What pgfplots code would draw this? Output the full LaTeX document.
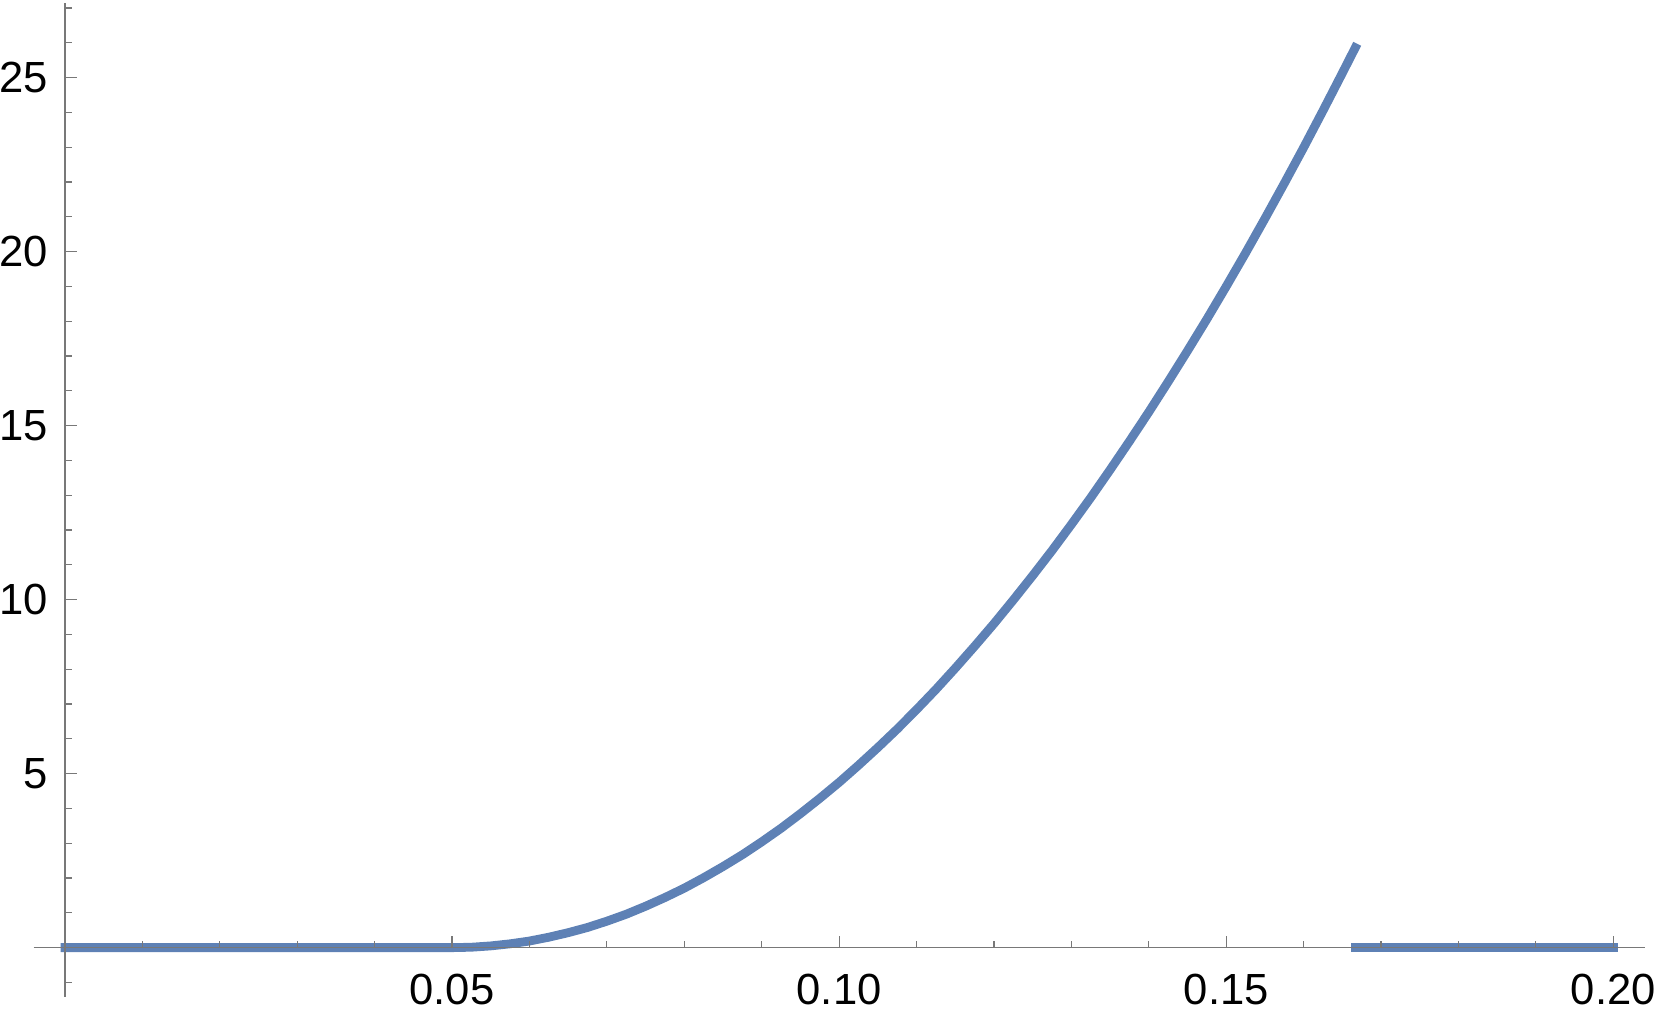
\documentclass[border=0pt]{standalone}
\usepackage{fontspec}
\setmainfont{Liberation Sans}
\usepackage{pgfplots}
\pgfplotsset{compat=1.18}
\definecolor{mblue}{RGB}{94,129,181}
\definecolor{axgray}{RGB}{120,120,120}
\begin{document}
\begin{tikzpicture}
\begin{axis}[
 at={(0pt,0pt)}, anchor=south west,
 scale only axis, width=402.8pt, height=248.4pt,
 axis lines=middle, axis on top,
 axis line style={-, axgray, line width=0.3pt},
 xmin=-0.00404, xmax=0.2041, ymin=-1.414, ymax=27.14,
 xtick={0.05,0.1,0.15,0.2}, xticklabels={0.05,0.10,0.15,0.20},
 minor xtick={0.01,0.02,0.03,0.04,0.06,0.07,0.08,0.09,0.11,0.12,0.13,0.14,0.16,0.17,0.18,0.19},
 ytick={5,10,15,20,25}, yticklabels={5,10,15,20,25},
 minor ytick={-1,1,2,3,4,6,7,8,9,11,12,13,14,16,17,18,19,21,22,23,24,26,27},
 tick align=inside,
 major tick length=3pt, minor tick length=1.75pt,
 tick style={axgray, line width=0.3pt},
 tick label style={font=\fontsize{10.9}{13}\selectfont, text=black},
 xticklabel style={yshift=-3pt},
 yticklabel style={xshift=-0.7pt},
 clip=false,
]
\addplot[mblue, line width=2.2pt, line cap=rect, line join=round] coordinates {
(0,0) (0.05,0) (0.0525,0.012) (0.055,0.05) (0.0575,0.11) (0.06,0.19) (0.0625,0.30)
(0.065,0.43) (0.0675,0.58) (0.07,0.76) (0.0725,0.96) (0.075,1.19) (0.0775,1.44)
(0.08,1.71) (0.0825,2.01) (0.085,2.33) (0.0875,2.67) (0.09,3.04) (0.0925,3.43)
(0.095,3.85) (0.0975,4.29) (0.10,4.75) (0.1025,5.24) (0.105,5.75) (0.1075,6.28)
(0.11,6.84) (0.1125,7.42) (0.115,8.03) (0.1175,8.66) (0.12,9.31) (0.1225,9.99)
(0.125,10.69) (0.1275,11.41) (0.13,12.16) (0.1325,12.93) (0.135,13.73) (0.1375,14.55)
(0.14,15.39) (0.1425,16.26) (0.145,17.15) (0.1475,18.06) (0.15,19.00) (0.1525,19.96)
(0.155,20.95) (0.1575,21.96) (0.16,22.99) (0.1625,24.05) (0.165,25.13) (0.16667,25.86)
};
\addplot[mblue, line width=2.2pt, line cap=rect] coordinates {(0.16667,0) (0.2,0)};
\end{axis}
\pgfresetboundingbox
\path (-8.43pt,-5.43pt) rectangle (406.8pt,249.2pt);
\end{tikzpicture}
\end{document}
